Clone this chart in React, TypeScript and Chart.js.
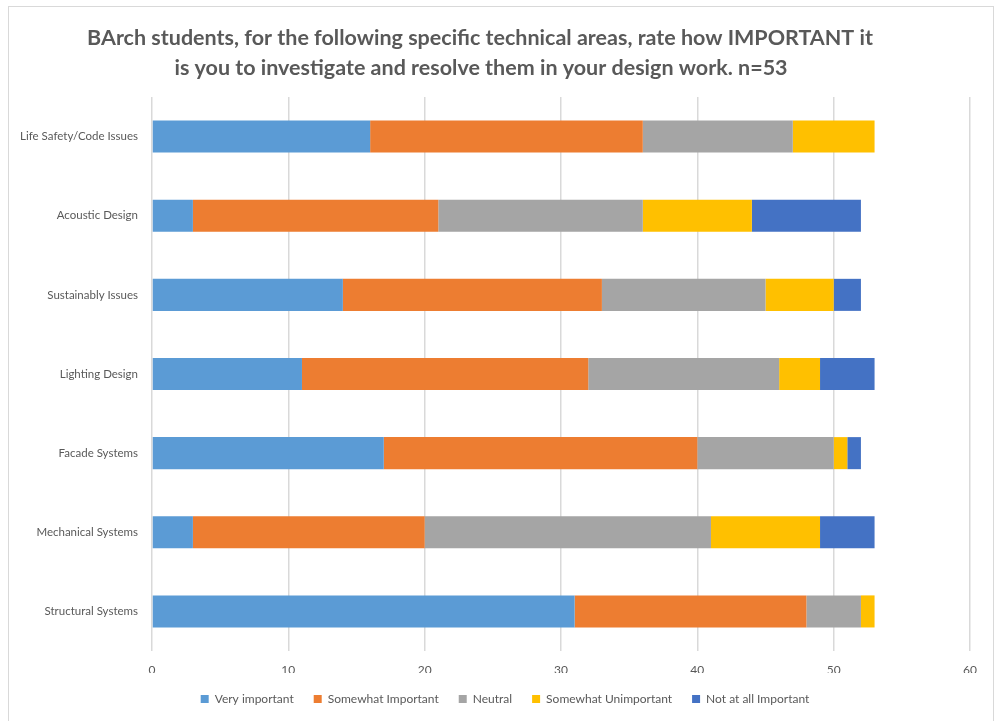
import React, { useEffect, useRef } from "react";
import { Chart, registerables } from "chart.js";

Chart.register(...registerables);

const categories = [
  "Life Safety/Code Issues",
  "Acoustic Design",
  "Sustainably Issues",
  "Lighting Design",
  "Facade Systems",
  "Mechanical Systems",
  "Structural Systems",
];

const veryImportant = [16, 3, 14, 11, 17, 3, 31];
const somewhatImportant = [20, 18, 19, 21, 23, 17, 17];
const neutral = [11, 15, 12, 14, 10, 21, 4];
const somewhatUnimportant = [6, 8, 5, 3, 1, 8, 1];
const notAtAllImportant = [0, 8, 2, 4, 1, 4, 0];

const seriesNames = [
  "Very important",
  "Somewhat Important",
  "Neutral",
  "Somewhat Unimportant",
  "Not at all Important",
];
const seriesColors = ["#5B9BD5", "#ED7D31", "#A5A5A5", "#FFC000", "#4472C4"];

const titleLines = [
  "BArch students, for the following specific technical areas, rate how IMPORTANT it",
  "is you to investigate and resolve them in your design work. n=53",
];

const xTicks = [0, 10, 20, 30, 40, 50, 60];

const FONT = "Lato, 'Open Sans', sans-serif";

export default function App() {
  const ref = useRef<HTMLCanvasElement | null>(null);

  useEffect(() => {
    document.body.style.margin = "0";
    const canvas = ref.current;
    if (!canvas) return;
    const values = [veryImportant, somewhatImportant, neutral, somewhatUnimportant, notAtAllImportant];

    const titlePlugin = {
      id: "customTitle",
      afterLayout(chart: any) {
        if (chart.legend) {
          chart.legend.left += 20;
          chart.legend.right += 20;
        }
      },
      afterDraw(chart: any) {
        const ctx = chart.ctx;
        ctx.save();
        ctx.fillStyle = "#595959";
        ctx.font = `bold 21.5px ${FONT}`;
        ctx.textAlign = "center";
        ctx.textBaseline = "middle";
        ctx.fillText(titleLines[0], 480, 38);
        ctx.fillText(titleLines[1], 481, 68);
        ctx.restore();
      },
    };

    const chart = new Chart(canvas, {
      type: "bar",
      data: {
        labels: categories,
        datasets: seriesNames.map((name, i) => ({
          label: name,
          data: values[i],
          backgroundColor: seriesColors[i],
          borderWidth: 0,
          barPercentage: 0.405,
          categoryPercentage: 1,
        })),
      },
      options: {
        indexAxis: "y",
        animation: false,
        responsive: false,
        maintainAspectRatio: false,
        layout: { padding: { top: 97, right: 32, left: 0, bottom: 6 } },
        scales: {
          x: {
            stacked: true,
            min: 0,
            max: 60,
            afterBuildTicks(scale: any) {
              scale.ticks = xTicks.map((v) => ({ value: v }));
            },
            afterFit(scale: any) {
              scale.height = 22;
            },
            grid: { color: "#D9D9D9", lineWidth: 1.5, drawTicks: false },
            border: { display: false },
            ticks: {
              color: "#595959",
              font: { family: FONT, size: 12 },
              padding: 12,
            },
          },
          y: {
            stacked: true,
            afterFit(scale: any) {
              scale.width = 152;
            },
            grid: { display: false, drawTicks: false },
            border: { display: false },
            ticks: {
              color: "#595959",
              font: { family: FONT, size: 11.5 },
              padding: 14,
            },
          },
        },
        plugins: {
          title: { display: false },
          tooltip: { enabled: false },
          legend: {
            position: "bottom",
            labels: {
              boxWidth: 8,
              boxHeight: 8,
              color: "#595959",
              font: { family: FONT, size: 12 },
              padding: 20,
              useBorderRadius: false,
            },
          },
        },
      },
      plugins: [titlePlugin],
    });
    return () => chart.destroy();
  }, []);

  return (
    <div style={{ position: "relative", width: 1002, height: 721, background: "#fff" }}>
      <div
        style={{
          position: "absolute",
          left: 8,
          top: 6,
          width: 986,
          height: 730,
          border: "1px solid #D9D9D9",
          boxSizing: "border-box",
        }}
      />
      <canvas ref={ref} width={1002} height={721} style={{ position: "absolute", left: 0, top: 0 }} />
    </div>
  );
}
